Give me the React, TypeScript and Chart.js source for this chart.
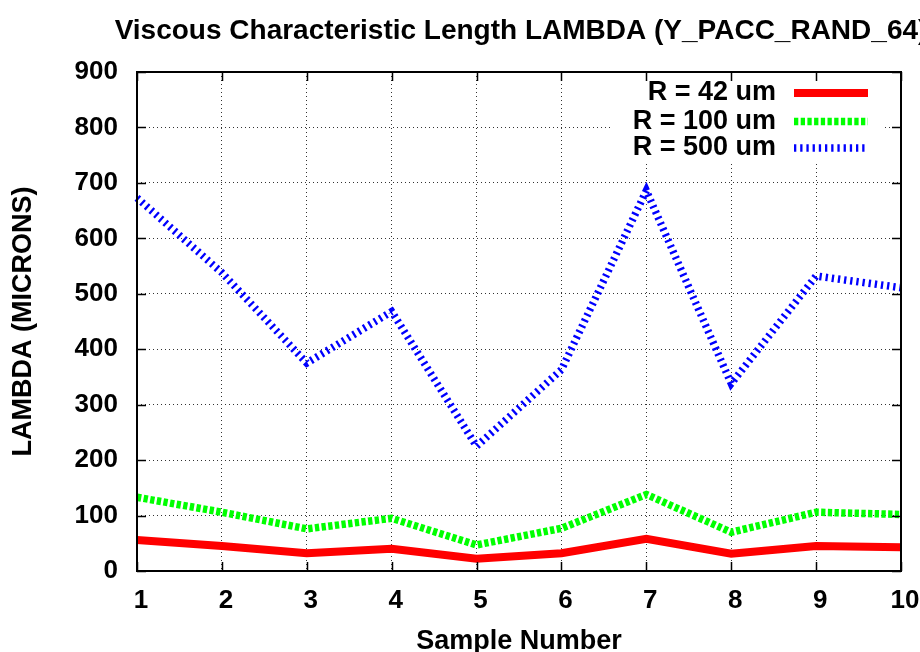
import React, { useEffect, useRef } from "react";
import { Chart, registerables } from "chart.js";

Chart.register(...registerables);

// ---- data ----
const sampleNumbers = ["1", "2", "3", "4", "5", "6", "7", "8", "9", "10"];
const seriesLabels = ["R = 42 um", "R = 100 um", "R = 500 um"];
const lambdaR42 = [56, 45, 32, 40, 22, 32, 58, 31, 45, 43];
const lambdaR100 = [133, 106, 76, 95, 47, 77, 138, 70, 106, 102];
const lambdaR500 = [673, 538, 375, 468, 225, 363, 686, 338, 532, 511];
const yMin = 0;
const yMax = 900;
const yStep = 100;
const chartTitle = "Viscous Characteristic Length LAMBDA (Y_PACC_RAND_64)";
const xAxisTitle = "Sample Number";
const yAxisTitle = "LAMBDA (MICRONS)";

const FONT = '"Liberation Sans", Arial, Helvetica, sans-serif';

const gnuplotPlugin = {
  id: "gnuplotLook",
  afterDatasetsDraw(chart: any) {
    const { ctx, chartArea: a, scales } = chart;
    ctx.save();
    // legend metrics
    ctx.font = `bold 27px ${FONT}`;
    const textRight = a.right - 125;
    const sampleStart = a.right - 107;
    const sampleEnd = a.right - 33;
    const rowY = [a.top + 21, a.top + 49.5, a.top + 76];
    let maxW = 0;
    chart.data.datasets.forEach((ds: any) => {
      maxW = Math.max(maxW, ctx.measureText(ds.label).width);
    });
    // opaque key box
    ctx.fillStyle = "#ffffff";
    ctx.fillRect(textRight - maxW - 20, a.top + 5, sampleEnd + 17 - (textRight - maxW - 20), 85);

    // frame
    ctx.strokeStyle = "#000";
    ctx.lineWidth = 2;
    ctx.setLineDash([]);
    ctx.strokeRect(a.left, a.top, a.right - a.left, a.bottom - a.top);

    // inward ticks (mirrored)
    const tl = 9;
    ctx.lineWidth = 1.5;
    ctx.beginPath();
    scales.x.ticks.forEach((_t: any, i: number) => {
      const px = Math.round(scales.x.getPixelForTick(i)) + 0.5;
      ctx.moveTo(px, a.bottom);
      ctx.lineTo(px, a.bottom - tl);
      ctx.moveTo(px, a.top);
      ctx.lineTo(px, a.top + tl);
    });
    scales.y.ticks.forEach((_t: any, i: number) => {
      const py = Math.round(scales.y.getPixelForTick(i)) + 0.5;
      ctx.moveTo(a.left, py);
      ctx.lineTo(a.left + tl, py);
      ctx.moveTo(a.right, py);
      ctx.lineTo(a.right - tl, py);
    });
    ctx.stroke();

    // legend entries
    chart.data.datasets.forEach((ds: any, i: number) => {
      const y = rowY[i];
      ctx.fillStyle = "#000";
      ctx.font = `bold 27px ${FONT}`;
      ctx.textAlign = "right";
      ctx.textBaseline = "middle";
      ctx.fillText(ds.label, textRight, y);
      ctx.strokeStyle = ds.borderColor;
      ctx.lineWidth = ds.borderWidth;
      ctx.lineCap = "butt";
      ctx.setLineDash(ds.borderDash || []);
      ctx.beginPath();
      ctx.moveTo(sampleStart, y);
      ctx.lineTo(sampleEnd, y);
      ctx.stroke();
    });
    ctx.restore();
  },
  afterDraw(chart: any) {
    const { ctx, chartArea: a } = chart;
    ctx.save();
    ctx.fillStyle = "#000";
    ctx.font = `bold 28px ${FONT}`;
    ctx.textAlign = "center";
    ctx.textBaseline = "middle";
    ctx.fillText(chartTitle, (a.left + a.right) / 2 + 2, 31);
    ctx.restore();
  },
};

export default function App() {
  const ref = useRef<HTMLCanvasElement>(null);

  useEffect(() => {
    const canvas = ref.current;
    if (!canvas) return;
    Chart.defaults.font.family = FONT;
    Chart.defaults.color = "#000";
    const chart = new Chart(canvas, {
      type: "line",
      data: {
        labels: sampleNumbers,
        datasets: [
          {
            label: seriesLabels[0],
            data: lambdaR42,
            borderColor: "#ff0000",
            borderWidth: 8,
            pointRadius: 0,
            tension: 0,
            fill: false,
            borderCapStyle: "butt",
          },
          {
            label: seriesLabels[1],
            data: lambdaR100,
            borderColor: "#00ff00",
            borderWidth: 7.5,
            borderDash: [4.3, 2.4],
            pointRadius: 0,
            tension: 0,
            fill: false,
            borderCapStyle: "butt",
          },
          {
            label: seriesLabels[2],
            data: lambdaR500,
            borderColor: "#0000ff",
            borderWidth: 7.5,
            borderDash: [2.3, 3.9],
            pointRadius: 0,
            tension: 0,
            fill: false,
            borderCapStyle: "butt",
          },
        ],
      },
      options: {
        responsive: false,
        animation: false,
        events: [],
        layout: { padding: { top: 72, right: 59, left: 0, bottom: 0 } },
        plugins: {
          legend: { display: false },
          title: { display: false },
          tooltip: { enabled: false },
        },
        scales: {
          x: {
            type: "category",
            offset: false,
            grid: { color: "#333", lineWidth: 1, drawTicks: false },
            border: { display: false, dash: [1, 3] },
            ticks: {
              font: { size: 26, weight: "bold" },
              color: "#000",
              padding: 14,
              labelOffset: 4,
              maxRotation: 0,
              autoSkip: false,
            },
            title: {
              display: true,
              text: xAxisTitle,
              font: { size: 27, weight: "bold" },
              color: "#000",
              padding: { top: 0, bottom: 2 },
            },
            afterFit(scale: any) {
              scale.height = 89;
            },
          },
          y: {
            min: yMin,
            max: yMax,
            grid: { color: "#333", lineWidth: 1, drawTicks: false },
            border: { display: false, dash: [1, 3] },
            ticks: {
              stepSize: yStep,
              font: { size: 26, weight: "bold" },
              color: "#000",
              padding: 19,
            },
            title: {
              display: true,
              text: yAxisTitle,
              font: { size: 27, weight: "bold" },
              color: "#000",
              padding: { top: 7, bottom: 0 },
            },
            afterFit(scale: any) {
              scale.width = 137;
            },
          },
        },
      },
      plugins: [gnuplotPlugin],
    } as any);
    return () => chart.destroy();
  }, []);

  return (
    <div
      style={{
        position: "fixed",
        left: 0,
        top: 0,
        width: 920,
        height: 652,
        overflow: "hidden",
        background: "#fff",
      }}
    >
      <canvas ref={ref} width={960} height={660} style={{ display: "block" }} />
    </div>
  );
}
